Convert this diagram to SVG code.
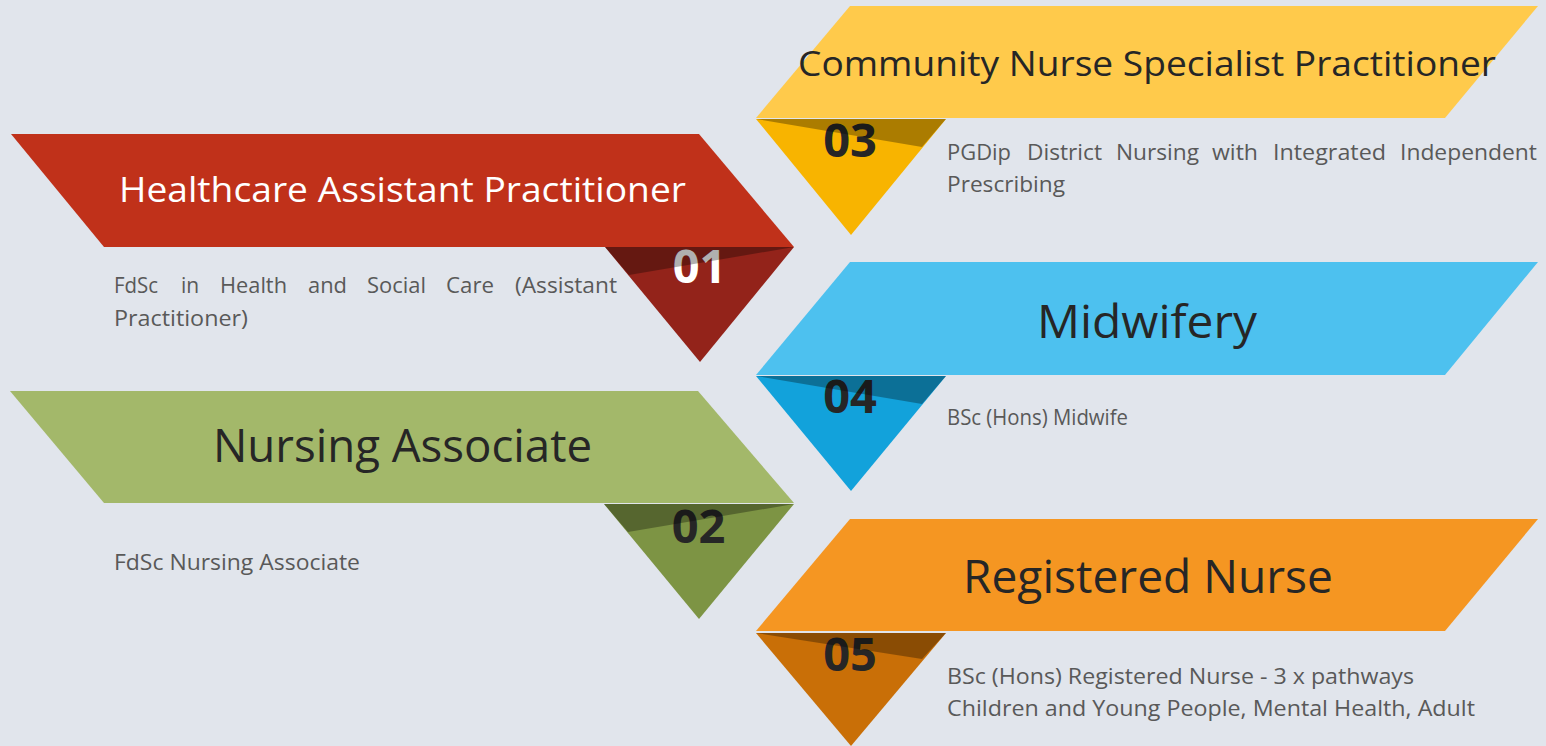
<svg xmlns="http://www.w3.org/2000/svg" width="1546" height="746" viewBox="0 0 1546 746">
<style>
.title{font-family:"Open Sans","Noto Sans",sans-serif;text-anchor:middle}
.num{font-family:"Open Sans","Noto Sans",sans-serif;font-weight:bold;font-size:47px;text-anchor:middle}
.desc{font-family:"Open Sans","Noto Sans",sans-serif;font-size:21px;fill:#595959}
.shade{fill:#000;fill-opacity:0.31}
.dark{fill:#262626}
</style>
<rect width="1546" height="746" fill="#e1e5ec"/>
<g id="connectors"/>
<g id="node-01">
<polygon points="605,247 794,247 700,362" fill="#93231a"/>
<polygon points="11,134 699,134 794,247 104,247" fill="#c0311a"/>
<text class="title" x="402.5" y="202" font-size="34" fill="#ffffff" textLength="567" lengthAdjust="spacingAndGlyphs">Healthcare Assistant Practitioner</text>
<text class="num" x="699.5" y="283" fill="#ffffff">01</text>
<polygon class="shade" points="605,247 794,247 629,275"/>
<text class="desc" y="293"><tspan x="114" textLength="44" lengthAdjust="spacingAndGlyphs">FdSc</tspan><tspan x="181">in</tspan><tspan x="220" textLength="67" lengthAdjust="spacingAndGlyphs">Health</tspan><tspan x="308" textLength="39" lengthAdjust="spacingAndGlyphs">and</tspan><tspan x="367" textLength="59" lengthAdjust="spacingAndGlyphs">Social</tspan><tspan x="446" textLength="48" lengthAdjust="spacingAndGlyphs">Care</tspan><tspan x="515" textLength="102" lengthAdjust="spacingAndGlyphs">(Assistant</tspan></text>
<text class="desc" x="114" y="326" textLength="134" lengthAdjust="spacingAndGlyphs">Practitioner)</text>
</g>
<g id="node-02">
<polygon points="604,504 794,504 699,619" fill="#7d9444"/>
<polygon points="10,391 698,391 794,503 104,503" fill="#a3b86a"/>
<text class="title dark" x="402.5" y="462" font-size="45" textLength="379" lengthAdjust="spacingAndGlyphs">Nursing Associate</text>
<text class="num dark" x="698.5" y="543">02</text>
<polygon class="shade" points="604,504 794,504 628,532"/>
<text class="desc" x="114" y="570" textLength="246" lengthAdjust="spacingAndGlyphs">FdSc Nursing Associate</text>
</g>
<g id="node-03">
<polygon points="756,119 946,119 851,235" fill="#f8b400"/>
<polygon points="850,6 1538,6 1445,118 756,118" fill="#ffca4b"/>
<text class="title dark" x="1147" y="76" font-size="35" textLength="698" lengthAdjust="spacingAndGlyphs">Community Nurse Specialist Practitioner</text>
<text class="num dark" x="850" y="157">03</text>
<polygon class="shade" points="756,119 946,119 922,147"/>
<text class="desc" y="160"><tspan x="947" textLength="64" lengthAdjust="spacingAndGlyphs">PGDip</tspan><tspan x="1027" textLength="75" lengthAdjust="spacingAndGlyphs">District</tspan><tspan x="1116" textLength="83" lengthAdjust="spacingAndGlyphs">Nursing</tspan><tspan x="1212" textLength="46" lengthAdjust="spacingAndGlyphs">with</tspan><tspan x="1273" textLength="113" lengthAdjust="spacingAndGlyphs">Integrated</tspan><tspan x="1400" textLength="137" lengthAdjust="spacingAndGlyphs">Independent</tspan></text>
<text class="desc" x="947" y="192" textLength="118" lengthAdjust="spacingAndGlyphs">Prescribing</text>
</g>
<g id="node-04">
<polygon points="756,376 946,376 851,491" fill="#12a2db"/>
<polygon points="850,262 1538,262 1445,375 756,375" fill="#4dc1ef"/>
<text class="title dark" x="1147" y="338" font-size="45" textLength="220" lengthAdjust="spacingAndGlyphs">Midwifery</text>
<text class="num dark" x="850" y="413">04</text>
<polygon class="shade" points="756,376 946,376 922,404"/>
<text class="desc" x="947" y="425" textLength="181" lengthAdjust="spacingAndGlyphs">BSc (Hons) Midwife</text>
</g>
<g id="node-05">
<polygon points="756,633 946,633 851,746" fill="#c96f07"/>
<polygon points="850,519 1538,519 1445,631 756,631" fill="#f59622"/>
<text class="title dark" x="1148" y="593" font-size="45" textLength="370" lengthAdjust="spacingAndGlyphs">Registered Nurse</text>
<text class="num dark" x="850" y="671">05</text>
<polygon class="shade" points="756,633 946,633 922,659"/>
<text class="desc" x="947" y="684" textLength="467" lengthAdjust="spacingAndGlyphs">BSc (Hons) Registered Nurse - 3 x pathways</text>
<text class="desc" x="947" y="716" textLength="528" lengthAdjust="spacingAndGlyphs">Children and Young People, Mental Health, Adult</text>
</g>
</svg>
